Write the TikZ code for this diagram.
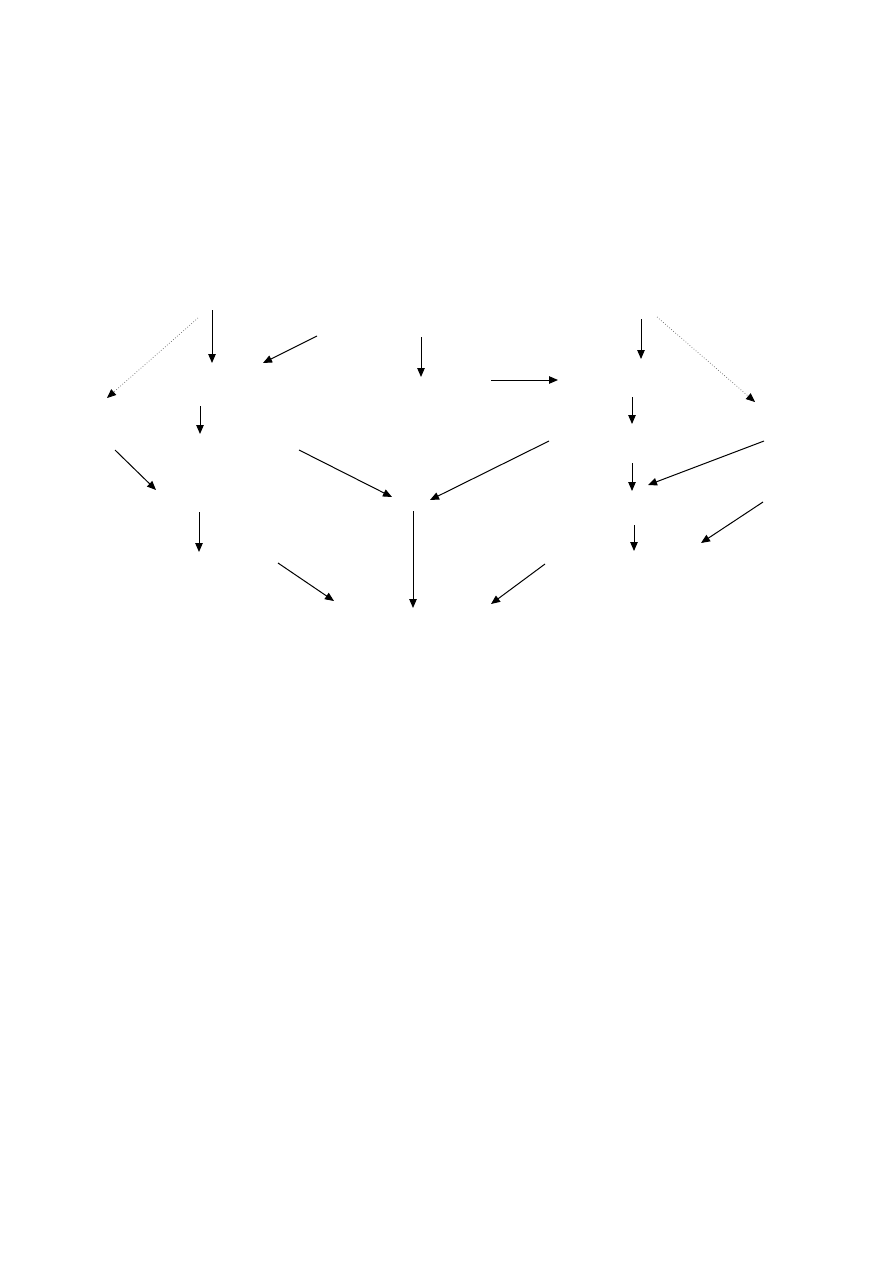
\documentclass[tikz,border=0pt]{standalone}
\usetikzlibrary{arrows.meta}
\begin{document}
\begin{tikzpicture}[x=1pt,y=-1pt,
  arr/.style={line width=1pt,-{Triangle[length=9pt,width=7.5pt]}},
  dotarr/.style={line width=0.7pt,draw=black!60,dotted,-{Triangle[length=9pt,width=7.5pt,color=black]}}]
\useasboundingbox[fill=white] (0,0) rectangle (893,1263);
% coordinates
\coordinate (a1s) at (212,310); \coordinate (a1e) at (212,363);
\coordinate (a2s) at (198,318); \coordinate (a2e) at (107,398);
\coordinate (a3s) at (317,336); \coordinate (a3e) at (263,363);
\coordinate (a4s) at (421,337); \coordinate (a4e) at (421,377);
\coordinate (a5s) at (491,380); \coordinate (a5e) at (558,380);
\coordinate (a6s) at (641,319); \coordinate (a6e) at (641,359);
\coordinate (a7s) at (657,317); \coordinate (a7e) at (755,402);
\coordinate (a8s) at (200,406); \coordinate (a8e) at (200,434);
\coordinate (a9s) at (632,397); \coordinate (a9e) at (632,424);
\coordinate (a10s) at (115,450); \coordinate (a10e) at (156,490);
\coordinate (a11s) at (299,450); \coordinate (a11e) at (392,497);
\coordinate (a12s) at (549,441); \coordinate (a12e) at (430,500);
\coordinate (a13s) at (764,441); \coordinate (a13e) at (648,485);
\coordinate (a14s) at (632,463); \coordinate (a14e) at (632,491);
\coordinate (a15s) at (199,512); \coordinate (a15e) at (199,552);
\coordinate (a16s) at (763,502); \coordinate (a16e) at (701,543);
\coordinate (a17s) at (634,525); \coordinate (a17e) at (634,551);
\coordinate (a18s) at (278,563); \coordinate (a18e) at (334,601);
\coordinate (a19s) at (413,511); \coordinate (a19e) at (413,608);
\coordinate (a20s) at (545,564); \coordinate (a20e) at (491,604);
% arrows
\foreach \i in {1,3,4,5,6,8,9,10,11,12,13,14,15,16,17,18,19,20}
  \draw[arr] (a\i s) -- (a\i e);
\draw[dotarr] (a2s) -- (a2e);
\draw[dotarr] (a7s) -- (a7e);
\end{tikzpicture}
\end{document}
